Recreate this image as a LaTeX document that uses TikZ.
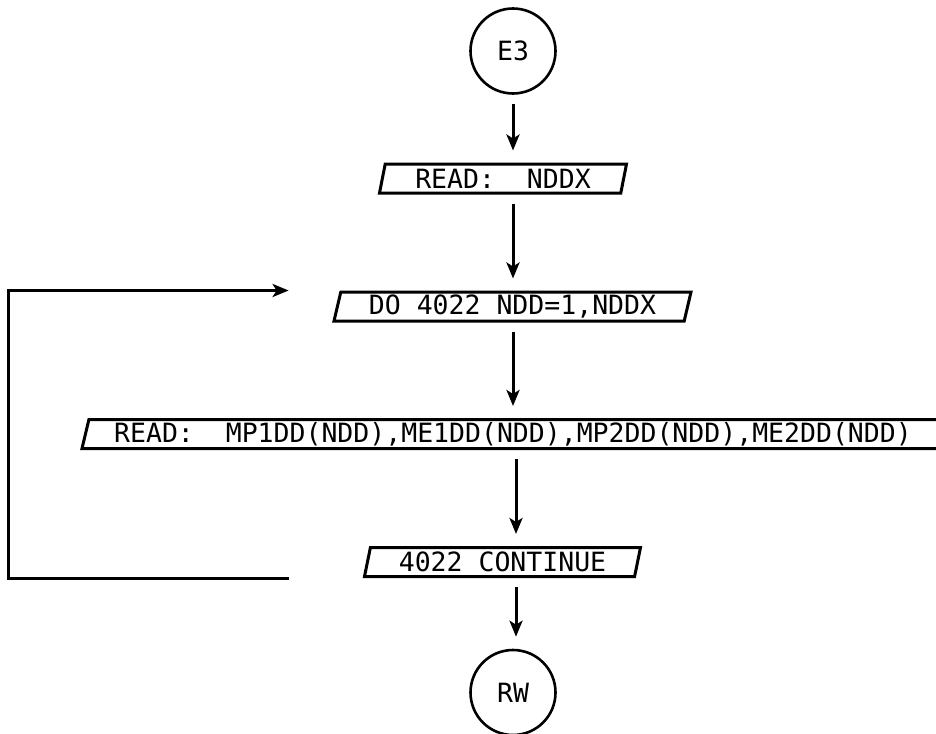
\documentclass[tikz,border=0pt]{standalone}
\usepackage{fontspec}
\newfontfamily\plotfont{DejaVu Sans Mono}
\usetikzlibrary{arrows.meta,shapes.geometric}
\tikzset{
  txt/.style={font=\plotfont\fontsize{26.5}{30}\selectfont},
  term/.style={circle,draw,line width=2.6pt,minimum size=85pt,inner sep=0pt,txt},
  io/.style={trapezium,trapezium left angle=75,trapezium right angle=105,trapezium stretches body,draw,line width=3pt,minimum height=29pt,inner sep=1pt,txt},
  arr/.style={-{Stealth[length=16pt,width=13pt,inset=4pt]}},
  fl/.style={line width=3pt,arr,shorten <=9pt,shorten >=12pt}
}

\begin{document}
\begin{tikzpicture}[x=1pt,y=1pt]
\useasboundingbox (0,0) rectangle (936,-733);
\clip (0,0) rectangle (936,-733);
\node[term] (e3) at (513,-51) {E3};
\node[io,minimum width=247pt] (rdn) at (503,-178.5) {READ:~~NDDX};
\node[io,minimum width=357pt] (do) at (512.5,-306.5) {DO 4022 NDD=1,NDDX};
\node[io,minimum width=862pt] (rdm) at (513,-434) {READ:~~MP1DD(NDD),ME1DD(NDD),MP2DD(NDD),ME2DD(NDD)};
\node[io,minimum width=276pt] (cont) at (502.5,-562) {4022 CONTINUE};
\node[term] (rw) at (513,-692.5) {RW};
\draw[fl] (e3) -- (e3 |- rdn.north);
\draw[fl] (e3 |- rdn.south) -- (e3 |- do.north);
\draw[fl] (e3 |- do.south) -- (e3 |- rdm.north);
\draw[fl] ([xshift=3pt]e3 |- rdm.south) -- ([xshift=3pt]e3 |- cont.north);
\draw[fl] ([xshift=3pt]e3 |- cont.south) -- ([xshift=3pt]rw.north);
\draw[line width=3pt,arr] ([xshift=-74pt]cont.bottom left corner) -- ++(-280,0) |- ([xshift=-51pt]do.top left corner);
\end{tikzpicture}
\end{document}
